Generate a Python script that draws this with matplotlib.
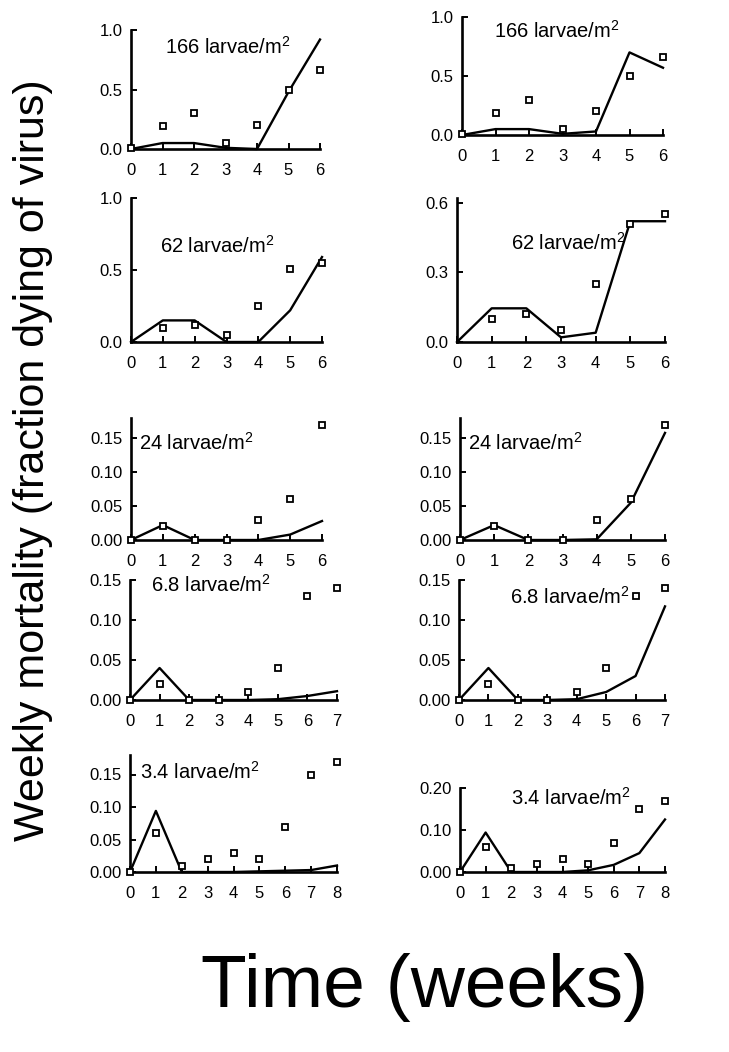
import matplotlib
matplotlib.use("Agg")
import matplotlib.pyplot as plt

plt.rcParams['font.family'] = ['Liberation Sans', 'DejaVu Sans']
plt.rcParams['mathtext.fontset'] = 'custom'
plt.rcParams['mathtext.rm'] = 'Liberation Sans'

# ---------------- data ----------------
densities = ["166", "62", "24", "6.8", "3.4"]

weeks_6 = [0, 1, 2, 3, 4, 5, 6]
weeks_7 = [0, 1, 2, 3, 4, 5, 6, 7]
weeks_8 = [0, 1, 2, 3, 4, 5, 6, 7, 8]

obs_166 = [0.01, 0.19, 0.30, 0.05, 0.20, 0.50, 0.66]
model_166_left = [0.0, 0.05, 0.05, 0.01, 0.0, 0.48, 0.92]
model_166_right = [0.0, 0.05, 0.05, 0.01, 0.03, 0.70, 0.57]

obs_62_x = [1, 2, 3, 4, 5, 6]
obs_62 = [0.10, 0.12, 0.05, 0.25, 0.51, 0.55]
model_62_left = [0.0, 0.15, 0.15, 0.0, 0.0, 0.22, 0.59]
model_62_right = [0.0, 0.145, 0.145, 0.02, 0.04, 0.52, 0.52]

obs_24 = [0.0, 0.02, 0.0, 0.0, 0.03, 0.06, 0.17]
model_24_left = [0.0, 0.022, 0.0, 0.0, 0.0, 0.008, 0.028]
model_24_right = [0.0, 0.022, 0.0, 0.0, 0.001, 0.055, 0.158]

obs_68 = [0.0, 0.02, 0.0, 0.0, 0.01, 0.04, 0.13, 0.14]
model_68_left = [0.0, 0.04, 0.0, 0.0, 0.0, 0.001, 0.005, 0.011]
model_68_right = [0.0, 0.04, 0.0, 0.0, 0.001, 0.01, 0.03, 0.117]

obs_34 = [0.0, 0.06, 0.01, 0.02, 0.03, 0.02, 0.07, 0.15, 0.17]
model_34_left = [0.0, 0.094, 0.0, 0.0, 0.0, 0.001, 0.002, 0.003, 0.01]
model_34_right = [0.0, 0.094, 0.0, 0.0, 0.0, 0.004, 0.017, 0.045, 0.125]

yticks_1 = [0.0, 0.5, 1.0]
yticks_06 = [0.0, 0.3, 0.6]
yticks_015 = [0.0, 0.05, 0.10, 0.15]
yticks_020 = [0.0, 0.10, 0.20]

# ---------------- figure ----------------
W, H = 729, 1052
fig = plt.figure(figsize=(W / 100, H / 100), dpi=100)


def add_ax(left, right, top, bottom):
    return fig.add_axes([left / W, 1 - bottom / H, (right - left) / W, (bottom - top) / H])


def style(ax, xmax, ymax, yticks, yfmt):
    ax.set_xlim(0, xmax)
    ax.set_ylim(0, ymax)
    ax.set_xticks(range(0, xmax + 1))
    ax.set_yticks(yticks)
    ax.set_yticklabels([yfmt.format(v) for v in yticks])
    for s in ['top', 'right']:
        ax.spines[s].set_visible(False)
    for s in ['left', 'bottom']:
        ax.spines[s].set_linewidth(1.9)
        ax.spines[s].set_color('black')
    ax.tick_params(direction='in', length=4, width=1.4, labelsize=12, pad=6)
    ax.tick_params(axis='x', pad=10)
    ax.patch.set_visible(False)


def draw(ax, ox, oy, mx, my, label, tx, ty):
    ax.plot(mx, my, color='black', lw=1.7, clip_on=False, zorder=3)
    ax.plot(ox, oy, ls='none', marker='s', ms=4.8, mfc='white', mec='black',
            mew=1.3, clip_on=False, zorder=4)
    ax.text(tx, ty, label + r" larvae/m$\mathregular{^2}$", transform=ax.transAxes,
            fontsize=14.5, ha='left', va='center')


# row 1
ax = add_ax(131, 320, 30, 149)
style(ax, 6, 1.0, yticks_1, "{:.1f}")
draw(ax, weeks_6, obs_166, weeks_6, model_166_left, densities[0], 0.18, 0.86)
ax = add_ax(462, 663, 17, 135)
style(ax, 6, 1.0, yticks_1, "{:.1f}")
draw(ax, weeks_6, obs_166, weeks_6, model_166_right, densities[0], 0.16, 0.88)

# row 2
ax = add_ax(131, 322, 198, 342)
style(ax, 6, 1.0, yticks_1, "{:.1f}")
draw(ax, obs_62_x, obs_62, weeks_6, model_62_left, densities[1], 0.15, 0.67)
ax = add_ax(457, 665, 198, 342)
style(ax, 6, 0.62, yticks_06, "{:.1f}")
draw(ax, obs_62_x, obs_62, weeks_6, model_62_right, densities[1], 0.26, 0.69)

# row 3
ax = add_ax(131, 322, 418, 540)
style(ax, 6, 0.18, yticks_015, "{:.2f}")
draw(ax, weeks_6, obs_24, weeks_6, model_24_left, densities[2], 0.04, 0.80)
ax = add_ax(460, 665, 418, 540)
style(ax, 6, 0.18, yticks_015, "{:.2f}")
draw(ax, weeks_6, obs_24, weeks_6, model_24_right, densities[2], 0.04, 0.80)

# row 4
ax = add_ax(130, 337, 580, 700)
style(ax, 7, 0.15, yticks_015, "{:.2f}")
draw(ax, weeks_7, obs_68, weeks_7, model_68_left, densities[3], 0.10, 0.96)
ax = add_ax(459, 665, 580, 700)
style(ax, 7, 0.15, yticks_015, "{:.2f}")
draw(ax, weeks_7, obs_68, weeks_7, model_68_right, densities[3], 0.25, 0.86)

# row 5
ax = add_ax(130, 337, 755, 872)
style(ax, 8, 0.18, yticks_015, "{:.2f}")
draw(ax, weeks_8, obs_34, weeks_8, model_34_left, densities[4], 0.05, 0.86)
ax = add_ax(460, 665, 788, 872)
style(ax, 8, 0.20, yticks_020, "{:.2f}")
draw(ax, weeks_8, obs_34, weeks_8, model_34_right, densities[4], 0.25, 0.88)

fig.text(33 / W, 1 - 460 / H, "Weekly mortality (fraction dying of virus)",
         rotation=90, ha='center', va='center', fontsize=31)
fig.text(425 / W, 1 - 988 / H, "Time (weeks)", ha='center', va='center', fontsize=54)

fig.savefig("out.png", dpi=100)
